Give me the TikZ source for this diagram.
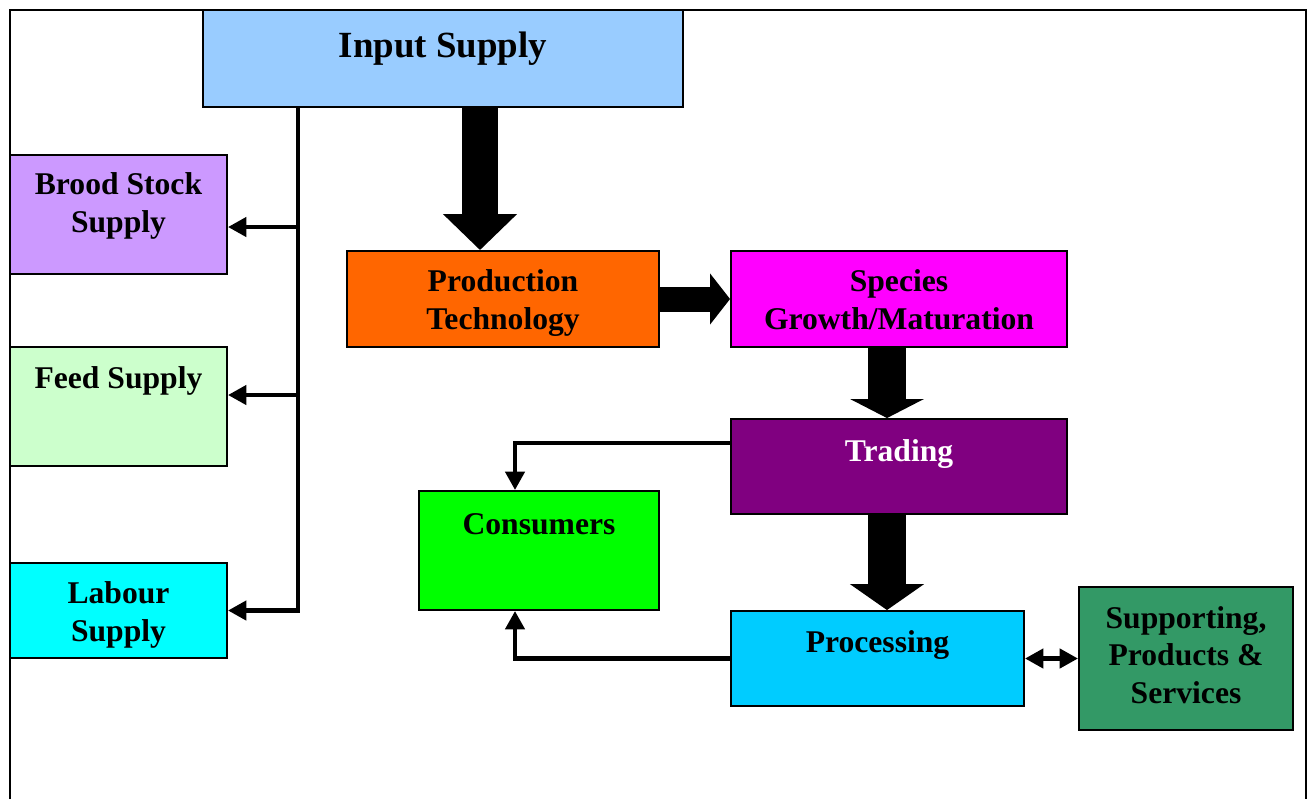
\documentclass[tikz,border=0pt]{standalone}
\usepackage{fontspec}
\setmainfont{Liberation Serif}
\usetikzlibrary{arrows.meta}

\definecolor{inputc}{HTML}{99CCFF}
\definecolor{broodc}{HTML}{CC99FF}
\definecolor{feedc}{HTML}{CCFFCC}
\definecolor{labourc}{HTML}{00FFFF}
\definecolor{prodc}{HTML}{FF6600}
\definecolor{speciesc}{HTML}{FF00FF}
\definecolor{tradingc}{HTML}{800080}
\definecolor{consc}{HTML}{00FF00}
\definecolor{procc}{HTML}{00CCFF}
\definecolor{suppc}{HTML}{339966}

\begin{document}
\begin{tikzpicture}[
x=0.02cm, y=-0.02cm,
block/.style={
draw,
line width=1.1pt,
rectangle,
inner sep=0pt},
lbl/.style={
font=\fontsize{18}{21.5}\selectfont\bfseries,
align=center},
conn/.style={
line width=2.6pt,
-{Triangle[length=0.37cm,width=0.38cm]}},
fat/.style={
line width=#1}
]

\useasboundingbox (0,0) rectangle (1308,799);
\draw[line width=1.2pt] (10,799) -- (10,10) -- (1306,10) -- (1306,799);

\draw (443,58.5)node[block,fill=inputc,minimum width=9.6cm,minimum height=1.94cm] (input){};
\draw (118.5,214.5)node[block,fill=broodc,minimum width=4.34cm,minimum height=2.38cm] (brood){};
\draw (118.5,406.5)node[block,fill=feedc,minimum width=4.34cm,minimum height=2.38cm] (feed){};
\draw (118.5,610.5)node[block,fill=labourc,minimum width=4.34cm,minimum height=1.9cm] (labour){};
\draw (503,299)node[block,fill=prodc,minimum width=6.24cm,minimum height=1.92cm] (prod){};
\draw (899,299)node[block,fill=speciesc,minimum width=6.72cm,minimum height=1.92cm] (species){};
\draw (899,466.5)node[block,fill=tradingc,minimum width=6.72cm,minimum height=1.9cm] (trading){};
\draw (539,550.5)node[block,fill=consc,minimum width=4.8cm,minimum height=2.38cm] (cons){};
\draw (877.5,658.5)node[block,fill=procc,minimum width=5.86cm,minimum height=1.9cm] (proc){};
\draw (1186,658.5)node[block,fill=suppc,minimum width=4.28cm,minimum height=2.86cm] (supp){};

\draw (443,49)node[lbl,font=\fontsize{21}{25}\selectfont\bfseries] (input-t){Input Supply};
\draw (118.5,206)node[lbl] (brood-t){Brood Stock\\Supply};
\draw (118.5,381)node[lbl] (feed-t){Feed Supply};
\draw (118.5,615)node[lbl] (labour-t){Labour\\Supply};
\draw (503,303)node[lbl] (prod-t){Production\\Technology};
\draw (899,300)node[lbl] (species-t){Species\\Growth/Maturation};
\draw (899,454)node[lbl,text=white] (trading-t){Trading};
\draw (539,524)node[lbl] (cons-t){Consumers};
\draw (877.5,645)node[lbl] (proc-t){Processing};
\draw (1186,655)node[lbl] (supp-t){Supporting,\\Products \&\\Services};

% supply lines
\coordinate (j1) at (298,227);
\coordinate (j2) at (298,395);
\draw[conn] (input.south -| j1) |- (labour.east);
\draw[conn] (j1) -- (j1 -| brood.east);
\draw[conn] (j2) -- (j2 -| feed.east);

% main chain
\draw[fat=0.72cm,-{Triangle[length=0.72cm,width=1.44cm]}] ([xshift=0.74cm]input.south) -- ([xshift=0.74cm]input.south |- prod.north);
\draw[fat=0.5cm,-{Triangle[length=0.4cm,width=1cm]}] (prod.east) -- (species.west);
\draw[fat=0.76cm,-{Triangle[length=0.38cm,width=1.46cm]}] ([xshift=-0.24cm]species.south) -- ([xshift=-0.24cm]trading.north);
\draw[fat=0.76cm,-{Triangle[length=0.52cm,width=1.46cm]}] ([xshift=-0.24cm]trading.south) -- ([xshift=-0.24cm]trading.south |- proc.north);

% to consumers
\draw[conn] ([yshift=0.47cm]trading.west) -| ([xshift=-0.48cm]cons.north);
\draw[conn] (proc.west) -| ([xshift=-0.48cm]cons.south);
\draw[conn,{Triangle[length=0.37cm,width=0.38cm]}-{Triangle[length=0.37cm,width=0.38cm]}] (proc.east) -- (supp.west);

\end{tikzpicture}
\end{document}
